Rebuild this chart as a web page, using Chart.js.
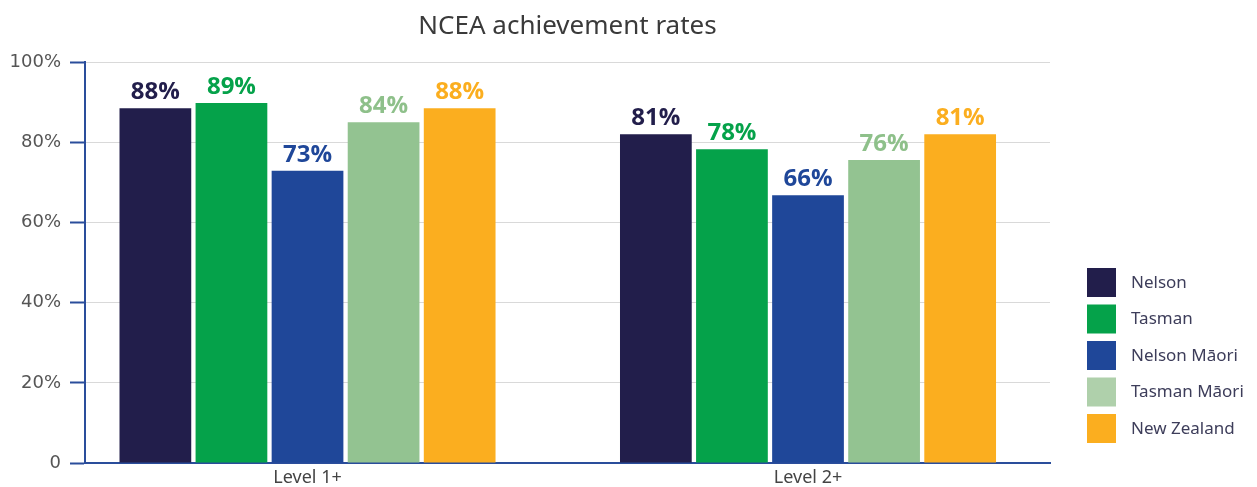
<!DOCTYPE html>
<html>
<head>
<meta charset="utf-8">
<script src="https://cdn.jsdelivr.net/npm/chart.js@4.4.1/dist/chart.umd.min.js"></script>
<style>
  html, body { margin: 0; padding: 0; background: #fff; }
  #wrap { width: 1257px; height: 487px; position: relative; }
</style>
</head>
<body>
<div id="wrap"><canvas id="ncea"></canvas></div>
<script>
// categories + series (labels as printed)
const categories = ["Level 1+", "Level 2+"];
const seriesNames = ["Nelson", "Tasman", "Nelson Māori", "Tasman Māori", "New Zealand"];
const nelson = [88.5, 82.0];
const tasman = [89.8, 78.3];
const nelsonMaori = [72.9, 66.8];
const tasmanMaori = [85.0, 75.6];
const newZealand = [88.5, 82.0];
const nelsonLabels = ["88%", "81%"];
const tasmanLabels = ["89%", "78%"];
const nelsonMaoriLabels = ["73%", "66%"];
const tasmanMaoriLabels = ["84%", "76%"];
const newZealandLabels = ["88%", "81%"];
const yTicks = [0, 20, 40, 60, 80, 100];

const colors = ["#221e4b", "#05a24a", "#1f4799", "#93c391", "#fbae1f"];
const legendColors = ["#221e4b", "#05a24a", "#1f4799", "#afd0ab", "#fbae1f"];
const labelColors = ["#221e4b", "#05a24a", "#1f4799", "#8ec08a", "#fbae1f"];
const AXIS_BLUE = "#2a4d9b";

const allValues = [nelson, tasman, nelsonMaori, tasmanMaori, newZealand];
const allLabels = [nelsonLabels, tasmanLabels, nelsonMaoriLabels, tasmanMaoriLabels, newZealandLabels];

// value labels above each bar
const barLabels = {
  id: "barLabels",
  afterDatasetsDraw(chart) {
    const ctx = chart.ctx;
    ctx.save();
    ctx.font = "bold 24px 'Open Sans'";
    ctx.textAlign = "center";
    ctx.textBaseline = "alphabetic";
    chart.data.datasets.forEach((ds, i) => {
      chart.getDatasetMeta(i).data.forEach((bar, j) => {
        ctx.fillStyle = labelColors[i];
        ctx.fillText(allLabels[i][j], bar.x, bar.y - 9);
      });
    });
    ctx.restore();
  }
};

// legend on the right, square boxes
const sideLegend = {
  id: "sideLegend",
  afterDraw(chart) {
    const ctx = chart.ctx;
    const area = chart.chartArea;
    const x0 = area.right + 37;
    const y0 = area.bottom - 195;
    ctx.save();
    ctx.font = "17px 'Noto Sans'";
    ctx.textBaseline = "middle";
    ctx.textAlign = "left";
    seriesNames.forEach((name, i) => {
      const y = y0 + i * 36.5;
      ctx.fillStyle = legendColors[i];
      ctx.fillRect(x0, y, 29, 29);
      ctx.fillStyle = "#3d3d5a";
      ctx.fillText(name, x0 + 44, y + 15);
    });
    ctx.restore();
  }
};

new Chart(document.getElementById("ncea"), {
  type: "bar",
  data: {
    datasets: seriesNames.map((name, i) => ({
      label: name,
      data: allValues[i].map((v, j) => ({ x: j, y: v })),
      backgroundColor: colors[i],
      borderWidth: 0,
      categoryPercentage: 0.76,
      barPercentage: 0.943
    }))
  },
  options: {
    responsive: true,
    maintainAspectRatio: false,
    animation: false,
    layout: { padding: { left: 0, right: 207, top: 0, bottom: 0 } },
    plugins: {
      legend: { display: false },
      tooltip: { enabled: false },
      title: {
        display: true,
        text: "NCEA achievement rates",
        fullSize: false,
        color: "#3a3a3a",
        font: { family: "'Noto Sans'", size: 26, weight: "normal" },
        padding: { top: 11, bottom: 20 }
      }
    },
    scales: {
      x: {
        type: "linear",
        offset: false,
        min: -0.4446,
        max: 1.4835,
        afterBuildTicks(scale) {
          scale.ticks = categories.map((c, i) => ({ value: i }));
        },
        afterFit(scale) { scale.height = 24; },
        grid: { display: false, offset: false, drawTicks: false },
        border: { display: true, color: AXIS_BLUE, width: 2 },
        ticks: {
          autoSkip: false,
          maxRotation: 0,
          padding: 4,
          color: "#444",
          font: { family: "'Noto Sans'", size: 18 },
          callback: (v) => categories[v]
        }
      },
      y: {
        min: 0,
        max: 100,
        afterBuildTicks(scale) {
          scale.ticks = yTicks.map(v => ({ value: v }));
        },
        afterFit(scale) { scale.width = 85; },
        grid: {
          color: "#d9d9d9",
          lineWidth: 1,
          tickColor: AXIS_BLUE,
          tickLength: 15,
          tickWidth: 2
        },
        border: { display: true, color: AXIS_BLUE, width: 2 },
        ticks: {
          padding: 9,
          color: "#555",
          font: { family: "'DejaVu Sans'", size: 18 },
          callback: (v) => v === 0 ? "0" : v + "%"
        }
      }
    }
  },
  plugins: [barLabels, sideLegend]
});
</script>
</body>
</html>
